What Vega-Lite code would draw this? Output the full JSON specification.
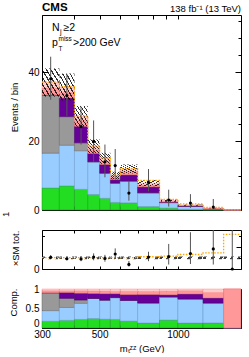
{
  "$schema": "https://vega.github.io/schema/vega-lite/v6.json",
  "background": "white",
  "padding": {"left": 0, "top": 1, "right": 10, "bottom": 0},
  "config": {
    "font": "Liberation Sans",
    "view": {"stroke": "black", "strokeWidth": 1},
    "axis": {"grid": false, "domain": false, "tickColor": "black", "tickWidth": 1, "labelColor": "black", "titleColor": "black", "labelFontSize": 10, "titleFontSize": 9.5, "titleFontWeight": "normal", "labelFont": "Liberation Sans", "titleFont": "Liberation Sans", "labelOverlap": false, "labelFlush": false},
    "text": {"font": "Liberation Sans", "color": "black"}
  },
  "datasets": {
    "bins": [
      {"lo": 300, "hi": 350, "xc": 324, "s1": 6.4, "s2": 10.1, "s3": 16.9, "s4": 0, "s5": 2.0, "s6": 1.6, "hlo": 32.9, "hhi": 41.1, "d": 38.1, "dlo": 32, "dhi": 44.5, "r": 1.05, "rlo": 0.88, "rhi": 1.25, "blo": 0.88, "bhi": 1.12},
      {"lo": 350, "hi": 400, "xc": 374, "s1": 7.0, "s2": 11.8, "s3": 8.3, "s4": 5.4, "s5": 1.6, "s6": 1.6, "hlo": 31.8, "hhi": 39.6, "d": 33.2, "dlo": 27.3, "dhi": 39.5, "r": 0.92, "rlo": 0.78, "rhi": 1.1, "blo": 0.88, "bhi": 1.12},
      {"lo": 400, "hi": 450, "xc": 424, "s1": 6.0, "s2": 11.2, "s3": 2.3, "s4": 4.8, "s5": 1.7, "s6": 1.2, "hlo": 24.2, "hhi": 30.2, "d": 24.2, "dlo": 19, "dhi": 30, "r": 0.9, "rlo": 0.7, "rhi": 1.12, "blo": 0.88, "bhi": 1.12},
      {"lo": 450, "hi": 500, "xc": 474, "s1": 4.5, "s2": 9.5, "s3": 0, "s4": 2.4, "s5": 1.2, "s6": 0.9, "hlo": 16.5, "hhi": 20.5, "d": 19.9, "dlo": 14, "dhi": 26, "r": 1.07, "rlo": 0.78, "rhi": 1.4, "blo": 0.88, "bhi": 1.12},
      {"lo": 500, "hi": 550, "xc": 524, "s1": 3.4, "s2": 7.3, "s3": 0, "s4": 2.5, "s5": 1.0, "s6": 0.8, "hlo": 13.4, "hhi": 16.6, "d": 14.0, "dlo": 9.5, "dhi": 19, "r": 0.94, "rlo": 0.65, "rhi": 1.27, "blo": 0.88, "bhi": 1.12},
      {"lo": 550, "hi": 600, "xc": 574, "s1": 2.2, "s2": 5.6, "s3": 0, "s4": 1.0, "s5": 0.6, "s6": 0.6, "hlo": 8.9, "hhi": 11.1, "d": 12.9, "dlo": 9, "dhi": 17.7, "r": 1.35, "rlo": 0.95, "rhi": 1.85, "blo": 0.88, "bhi": 1.12},
      {"lo": 600, "hi": 700, "xc": 648, "s1": 2.1, "s2": 6.3, "s3": 0, "s4": 1.8, "s5": 1.0, "s6": 0.7, "hlo": 10.6, "hhi": 13.2, "d": 4.9, "dlo": 2.7, "dhi": 8.5, "r": 0.41, "rlo": 0.22, "rhi": 0.72, "blo": 0.88, "bhi": 1.12},
      {"lo": 700, "hi": 850, "xc": 771, "s1": 1.0, "s2": 4.0, "s3": 0, "s4": 1.7, "s5": 0.6, "s6": 0.5, "hlo": 6.9, "hhi": 8.7, "d": 8.0, "dlo": 5.4, "dhi": 11.9, "r": 1.07, "rlo": 0.7, "rhi": 1.55, "blo": 0.88, "bhi": 1.12},
      {"lo": 850, "hi": 1000, "xc": 922, "s1": 0.55, "s2": 1.6, "s3": 0, "s4": 0.15, "s5": 0.25, "s6": 0.15, "hlo": 2.4, "hhi": 3.0, "d": 2.9, "dlo": 1.0, "dhi": 5.9, "r": 1.12, "rlo": 0.4, "rhi": 2.25, "blo": 0.88, "bhi": 1.12},
      {"lo": 1000, "hi": 1250, "xc": 1118, "s1": 0.18, "s2": 0.86, "s3": 0, "s4": 0.18, "s5": 0.12, "s6": 0.06, "hlo": 1.25, "hhi": 1.55, "d": 2.0, "dlo": 0.6, "dhi": 4.6, "r": 1.38, "rlo": 0.45, "rhi": 3.3, "blo": 0.88, "bhi": 1.12},
      {"lo": 1250, "hi": 1500, "xc": 1369, "s1": 0.065, "s2": 0.255, "s3": 0, "s4": 0.065, "s5": 0.07, "s6": 0.045, "hlo": 0.45, "hhi": 0.56, "d": 0.85, "dlo": 0.3, "dhi": 3.2, "r": 1.8, "rlo": 0.4, "rhi": 3.5, "blo": 0.88, "bhi": 1.12},
      {"lo": 1500, "hi": 1750, "xc": 1620, "s1": 0, "s2": 0, "s3": 0, "s4": 0, "s5": 0.03, "s6": 0, "hlo": 0.027, "hhi": 0.033, "d": null, "dlo": null, "dhi": null, "r": 0, "rlo": 0, "rhi": 3.5, "blo": 0.88, "bhi": 1.12}
    ],
    "steps": [
      {"x": 300, "om": 37.2, "or": 1.02},
      {"x": 350, "om": 35.8, "or": 1.02},
      {"x": 400, "om": 27.3, "or": 1.02},
      {"x": 450, "om": 18.6, "or": 1.02},
      {"x": 500, "om": 15.1, "or": 1.02},
      {"x": 550, "om": 10.1, "or": 1.02},
      {"x": 600, "om": 12.0, "or": 1.02},
      {"x": 700, "om": 8.6, "or": 1.1},
      {"x": 850, "om": 3.1, "or": 1.15},
      {"x": 1000, "om": 1.8, "or": 1.3},
      {"x": 1250, "om": 0.73, "or": 1.45},
      {"x": 1500, "om": 0.09, "or": 3.1},
      {"x": 1750, "om": 0.09, "or": 3.1}
    ]
  },
  "spacing": 20,
  "bounds": "flush",
  "vconcat": [
    {
      "width": 199,
      "height": 195,
      "resolve": {"axis": {"x": "independent", "y": "independent"}},
      "layer": [
        {
          "layer": [
            {
              "data": {"name": "bins"},
              "transform": [
                {"fold": ["s1", "s2", "s3", "s4", "s5", "s6"], "as": ["comp", "val"]},
                {"stack": "val", "groupby": ["lo"], "sort": [{"field": "comp", "order": "ascending"}], "as": ["v0", "v1"]}
              ],
              "mark": {"type": "rect", "strokeWidth": 0.5},
              "encoding": {
                "x": {"field": "lo", "type": "quantitative", "scale": {"type": "log", "domain": [300, 1750], "nice": false},
                      "axis": {"orient": "bottom", "values": [300, 400, 500, 600, 700, 800, 900, 1000], "labels": false, "title": null, "tickSize": -4}},
                "x2": {"field": "hi"},
                "y": {"field": "v0", "type": "quantitative", "scale": {"domain": [0, 56.6], "nice": false, "zero": false},
                      "axis": {"orient": "left", "values": [0, 5, 10, 15, 20, 25, 30, 35, 40, 45, 50, 55],
                               "labelExpr": "datum.value % 20 === 0 ? datum.label : ''",
                               "tickSize": {"condition": {"test": "datum.value % 20 === 0", "value": -6}, "value": -3},
                               "labelPadding": 9,
                               "title": "Events / bin", "titleX": -28, "titleY": 92, "titleAngle": 270, "titleAlign": "center", "titleBaseline": "middle"}},
                "y2": {"field": "v1"},
                "color": {"field": "comp", "type": "nominal", "scale": {"domain": ["s1", "s2", "s3", "s4", "s5", "s6"], "range": ["#22DD22", "#99CCFF", "#999999", "#660099", "#FF9999", "#FFCCCC"]}, "legend": null},
                "stroke": {"field": "comp", "type": "nominal", "scale": {"domain": ["s1", "s2", "s3", "s4", "s5", "s6"], "range": ["#119911", "#6699CC", "#666666", "#440066", "#DD6666", "#FF9999"]}, "legend": null}
              }
            },
            {
              "data": {"name": "bins"},
              "mark": {"type": "rect", "fill": {"gradient": "linear", "x1": 0, "y1": 1, "x2": 1, "y2": 0, "stops": [
                {"offset": 0, "color": "rgba(0,0,0,0)"}, {"offset": 0.085, "color": "rgba(0,0,0,0)"}, {"offset": 0.085, "color": "rgba(0,0,0,0.8)"}, {"offset": 0.125, "color": "rgba(0,0,0,0.8)"},
                {"offset": 0.125, "color": "rgba(0,0,0,0)"}, {"offset": 0.21, "color": "rgba(0,0,0,0)"}, {"offset": 0.21, "color": "rgba(0,0,0,0.8)"}, {"offset": 0.25, "color": "rgba(0,0,0,0.8)"},
                {"offset": 0.25, "color": "rgba(0,0,0,0)"}, {"offset": 0.335, "color": "rgba(0,0,0,0)"}, {"offset": 0.335, "color": "rgba(0,0,0,0.8)"}, {"offset": 0.375, "color": "rgba(0,0,0,0.8)"},
                {"offset": 0.375, "color": "rgba(0,0,0,0)"}, {"offset": 0.46, "color": "rgba(0,0,0,0)"}, {"offset": 0.46, "color": "rgba(0,0,0,0.8)"}, {"offset": 0.5, "color": "rgba(0,0,0,0.8)"},
                {"offset": 0.5, "color": "rgba(0,0,0,0)"}, {"offset": 0.585, "color": "rgba(0,0,0,0)"}, {"offset": 0.585, "color": "rgba(0,0,0,0.8)"}, {"offset": 0.625, "color": "rgba(0,0,0,0.8)"},
                {"offset": 0.625, "color": "rgba(0,0,0,0)"}, {"offset": 0.71, "color": "rgba(0,0,0,0)"}, {"offset": 0.71, "color": "rgba(0,0,0,0.8)"}, {"offset": 0.75, "color": "rgba(0,0,0,0.8)"},
                {"offset": 0.75, "color": "rgba(0,0,0,0)"}, {"offset": 0.835, "color": "rgba(0,0,0,0)"}, {"offset": 0.835, "color": "rgba(0,0,0,0.8)"}, {"offset": 0.875, "color": "rgba(0,0,0,0.8)"},
                {"offset": 0.875, "color": "rgba(0,0,0,0)"}, {"offset": 0.96, "color": "rgba(0,0,0,0)"}, {"offset": 0.96, "color": "rgba(0,0,0,0.8)"}, {"offset": 1, "color": "rgba(0,0,0,0.8)"}
              ]}},
              "encoding": {
                "x": {"field": "lo", "type": "quantitative"},
                "x2": {"field": "hi"},
                "y": {"field": "hlo", "type": "quantitative"},
                "y2": {"field": "hhi"}
              }
            },
            {
              "data": {"name": "steps"},
              "mark": {"type": "line", "interpolate": "step-after", "color": "#FFA500", "strokeWidth": 1.3, "strokeDash": [1.5, 1.5]},
              "encoding": {
                "x": {"field": "x", "type": "quantitative"},
                "y": {"field": "om", "type": "quantitative"}
              }
            },
            {
              "data": {"name": "bins"},
              "mark": {"type": "rule", "color": "#555555", "strokeWidth": 1},
              "encoding": {
                "x": {"field": "xc", "type": "quantitative"},
                "y": {"field": "dlo", "type": "quantitative"},
                "y2": {"field": "dhi"}
              }
            },
            {
              "data": {"name": "bins"},
              "mark": {"type": "point", "filled": true, "size": 10, "color": "black", "opacity": 1},
              "encoding": {
                "x": {"field": "xc", "type": "quantitative"},
                "y": {"field": "d", "type": "quantitative"}
              }
            },
            {
              "data": {"values": [{}]},
              "mark": {"type": "text", "text": "CMS", "align": "left", "baseline": "alphabetic", "dy": -4, "fontSize": 11.5, "fontWeight": "bold"},
              "encoding": {"x": {"datum": 300}, "y": {"datum": 56.6}}
            },
            {
              "data": {"values": [{}]},
              "mark": {"type": "text", "text": "138 fb⁻¹ (13 TeV)", "align": "right", "baseline": "alphabetic", "dy": -3.5, "fontSize": 9.5},
              "encoding": {"x": {"datum": 1750}, "y": {"datum": 56.6}}
            },
            {
              "data": {"values": [{}]},
              "mark": {"type": "text", "text": "N", "align": "left", "baseline": "alphabetic", "dx": 10, "dy": 15.5, "fontSize": 10.5},
              "encoding": {"x": {"datum": 300}, "y": {"datum": 56.6}}
            },
            {
              "data": {"values": [{}]},
              "mark": {"type": "text", "text": "j", "align": "left", "baseline": "alphabetic", "dx": 18, "dy": 18.5, "fontSize": 7},
              "encoding": {"x": {"datum": 300}, "y": {"datum": 56.6}}
            },
            {
              "data": {"values": [{}]},
              "mark": {"type": "text", "text": "≥2", "align": "left", "baseline": "alphabetic", "dx": 21.5, "dy": 15.5, "fontSize": 10.5},
              "encoding": {"x": {"datum": 300}, "y": {"datum": 56.6}}
            },
            {
              "data": {"values": [{}]},
              "mark": {"type": "text", "text": "p", "align": "left", "baseline": "alphabetic", "dx": 10, "dy": 31, "fontSize": 10.5},
              "encoding": {"x": {"datum": 300}, "y": {"datum": 56.6}}
            },
            {
              "data": {"values": [{}]},
              "mark": {"type": "text", "text": "miss", "align": "left", "baseline": "alphabetic", "dx": 16.5, "dy": 26, "fontSize": 6.5},
              "encoding": {"x": {"datum": 300}, "y": {"datum": 56.6}}
            },
            {
              "data": {"values": [{}]},
              "mark": {"type": "text", "text": "T", "align": "left", "baseline": "alphabetic", "dx": 16.5, "dy": 35.5, "fontSize": 6.5},
              "encoding": {"x": {"datum": 300}, "y": {"datum": 56.6}}
            },
            {
              "data": {"values": [{}]},
              "mark": {"type": "text", "text": ">200 GeV", "align": "left", "baseline": "alphabetic", "dx": 31, "dy": 31, "fontSize": 10.5},
              "encoding": {"x": {"datum": 300}, "y": {"datum": 56.6}}
            }
          ]
        },
        {
          "data": {"name": "bins"},
          "mark": {"type": "point", "opacity": 0},
          "encoding": {
            "x": {"field": "lo", "type": "quantitative", "axis": {"orient": "top", "values": [300, 400, 500, 600, 700, 800, 900, 1000], "labels": false, "title": null, "tickSize": -4}},
            "y": {"field": "hlo", "type": "quantitative", "axis": {"orient": "right", "values": [0, 5, 10, 15, 20, 25, 30, 35, 40, 45, 50, 55], "labels": false, "title": null,
                  "tickSize": {"condition": {"test": "datum.value % 20 === 0", "value": -6}, "value": -3}}}
          }
        }
      ]
    },
    {
      "width": 199,
      "height": 39,
      "resolve": {"axis": {"x": "independent", "y": "independent"}},
      "layer": [
        {
          "layer": [
            {
              "data": {"name": "bins"},
              "mark": {"type": "rect", "fill": {"gradient": "linear", "x1": 0, "y1": 1, "x2": 1, "y2": 0, "stops": [
                {"offset": 0, "color": "rgba(0,0,0,0)"}, {"offset": 0.12, "color": "rgba(0,0,0,0)"}, {"offset": 0.12, "color": "rgba(0,0,0,0.75)"}, {"offset": 0.2, "color": "rgba(0,0,0,0.75)"},
                {"offset": 0.2, "color": "rgba(0,0,0,0)"}, {"offset": 0.32, "color": "rgba(0,0,0,0)"}, {"offset": 0.32, "color": "rgba(0,0,0,0.75)"}, {"offset": 0.4, "color": "rgba(0,0,0,0.75)"},
                {"offset": 0.4, "color": "rgba(0,0,0,0)"}, {"offset": 0.52, "color": "rgba(0,0,0,0)"}, {"offset": 0.52, "color": "rgba(0,0,0,0.75)"}, {"offset": 0.6, "color": "rgba(0,0,0,0.75)"},
                {"offset": 0.6, "color": "rgba(0,0,0,0)"}, {"offset": 0.72, "color": "rgba(0,0,0,0)"}, {"offset": 0.72, "color": "rgba(0,0,0,0.75)"}, {"offset": 0.8, "color": "rgba(0,0,0,0.75)"},
                {"offset": 0.8, "color": "rgba(0,0,0,0)"}, {"offset": 0.92, "color": "rgba(0,0,0,0)"}, {"offset": 0.92, "color": "rgba(0,0,0,0.75)"}, {"offset": 1, "color": "rgba(0,0,0,0.75)"}
              ]}},
              "encoding": {
                "x": {"field": "lo", "type": "quantitative", "scale": {"type": "log", "domain": [300, 1750], "nice": false},
                      "axis": {"orient": "bottom", "values": [300, 400, 500, 600, 700, 800, 900, 1000], "labels": false, "title": null, "tickSize": -3}},
                "x2": {"field": "hi"},
                "y": {"field": "blo", "type": "quantitative", "scale": {"domain": [0, 3.5], "nice": false},
                      "axis": {"orient": "left", "values": [0, 1, 2, 3],
                               "labelExpr": "datum.value % 2 === 0 ? datum.label : ''",
                               "tickSize": {"condition": {"test": "datum.value % 2 === 0", "value": -5}, "value": -2.5},
                               "labelPadding": 8,
                               "title": "×SM tot.", "titleX": -27, "titleY": 18, "titleAngle": 270, "titleAlign": "center", "titleBaseline": "middle"}},
                "y2": {"field": "bhi"}
              }
            },
            {
              "data": {"values": [{}]},
              "mark": {"type": "text", "text": "1", "angle": 270, "align": "center", "baseline": "middle", "fontSize": 9.5},
              "encoding": {"x": {"datum": 218}, "y": {"datum": 4.9}}
            },
            {
              "data": {"name": "steps"},
              "mark": {"type": "line", "interpolate": "step-after", "color": "#FFA500", "strokeWidth": 1.3, "strokeDash": [1.5, 1.5], "clip": true},
              "encoding": {
                "x": {"field": "x", "type": "quantitative"},
                "y": {"field": "or", "type": "quantitative"}
              }
            },
            {
              "data": {"name": "bins"},
              "mark": {"type": "rule", "color": "#555555", "strokeWidth": 1, "clip": true},
              "encoding": {
                "x": {"field": "xc", "type": "quantitative"},
                "y": {"field": "rlo", "type": "quantitative"},
                "y2": {"field": "rhi"}
              }
            },
            {
              "data": {"name": "bins"},
              "mark": {"type": "point", "filled": true, "size": 10, "color": "black", "opacity": 1},
              "encoding": {
                "x": {"field": "xc", "type": "quantitative"},
                "y": {"field": "r", "type": "quantitative"}
              }
            }
          ]
        },
        {
          "data": {"name": "bins"},
          "mark": {"type": "point", "opacity": 0},
          "encoding": {
            "x": {"field": "lo", "type": "quantitative", "axis": {"orient": "top", "values": [300, 400, 500, 600, 700, 800, 900, 1000], "labels": false, "title": null, "tickSize": -3}},
            "y": {"field": "blo", "type": "quantitative", "axis": {"orient": "right", "values": [0, 1, 2, 3], "labels": false, "title": null,
                  "tickSize": {"condition": {"test": "datum.value % 2 === 0", "value": -5}, "value": -2.5}}}
          }
        }
      ]
    },
    {
      "width": 199,
      "height": 39,
      "resolve": {"axis": {"x": "independent", "y": "independent"}},
      "layer": [
        {
          "data": {"name": "bins"},
          "transform": [
            {"fold": ["s1", "s2", "s3", "s4", "s5", "s6"], "as": ["comp", "val"]},
            {"stack": "val", "groupby": ["lo"], "sort": [{"field": "comp", "order": "ascending"}], "offset": "normalize", "as": ["v0", "v1"]}
          ],
          "mark": {"type": "rect", "strokeWidth": 0.5},
          "encoding": {
            "x": {"field": "lo", "type": "quantitative", "scale": {"type": "log", "domain": [300, 1750], "nice": false},
                  "axis": {"orient": "bottom", "values": [300, 400, 500, 600, 700, 800, 900, 1000],
                           "labelExpr": "datum.value === 300 || datum.value === 500 || datum.value === 1000 ? format(datum.value, 'd') : ''",
                           "tickSize": -3, "labelPadding": 4, "title": "mₜᶻᶻ (GeV)", "titleY": 23, "titleBaseline": "alphabetic"}},
            "x2": {"field": "hi"},
            "y": {"field": "v0", "type": "quantitative", "scale": {"domain": [0, 1], "nice": false},
                  "axis": {"orient": "left", "values": [0, 0.1, 0.2, 0.3, 0.4, 0.5, 0.6, 0.7, 0.8, 0.9, 1],
                           "labelExpr": "datum.value === 0 ? '0' : datum.value === 0.5 ? '0.5' : datum.value === 1 ? '1' : ''",
                           "labelBaseline": {"condition": {"test": "datum.value === 0", "value": "bottom"}, "value": "middle"},
                           "tickSize": {"condition": {"test": "datum.value === 0 || datum.value === 0.5 || datum.value === 1", "value": -5}, "value": -2.5},
                           "labelPadding": 8,
                           "title": "Comp.", "titleX": -29, "titleY": 13, "titleAngle": 270, "titleAlign": "center", "titleBaseline": "middle"}},
            "y2": {"field": "v1"},
            "color": {"field": "comp", "type": "nominal", "legend": null},
            "stroke": {"field": "comp", "type": "nominal", "legend": null}
          }
        },
        {
          "data": {"name": "bins"},
          "mark": {"type": "point", "opacity": 0},
          "encoding": {
            "x": {"field": "lo", "type": "quantitative", "axis": {"orient": "top", "values": [300, 400, 500, 600, 700, 800, 900, 1000], "labels": false, "title": null, "tickSize": -3}},
            "y": {"field": "s1", "type": "quantitative", "axis": {"orient": "right", "values": [0, 0.1, 0.2, 0.3, 0.4, 0.5, 0.6, 0.7, 0.8, 0.9, 1], "labels": false, "title": null,
                  "tickSize": {"condition": {"test": "datum.value === 0 || datum.value === 0.5 || datum.value === 1", "value": -5}, "value": -2.5}}}
          }
        }
      ]
    }
  ]
}
